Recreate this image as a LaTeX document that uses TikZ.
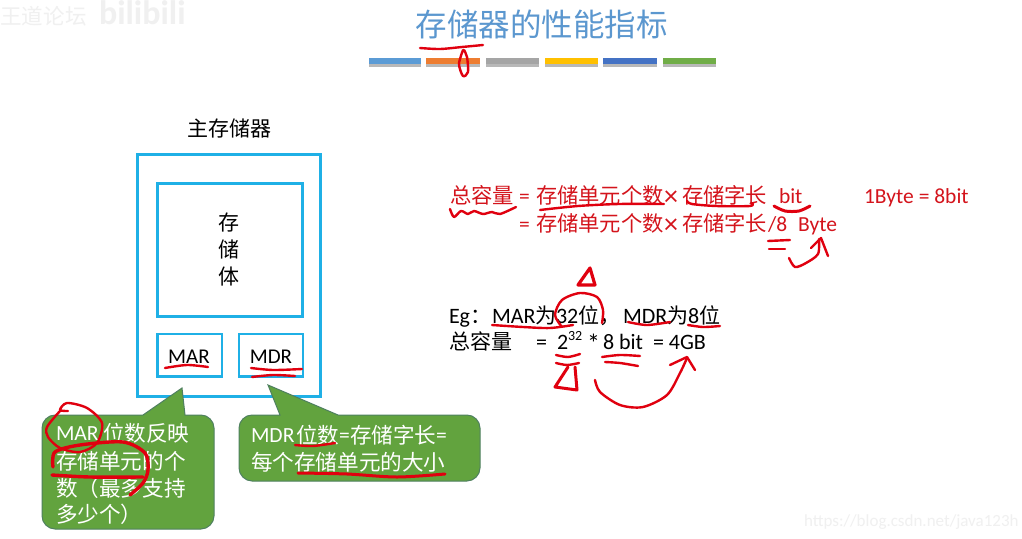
\documentclass[tikz,border=0pt]{standalone}
\usepackage{fontspec}
\setmainfont{Carlito}
\newfontfamily\cjk{Noto Sans CJK SC}[Scale=1]
\newcommand{\fsz}[1]{\fontsize{#1}{#1}\selectfont}
\definecolor{boxblue}{HTML}{1FB0E6}
\definecolor{inkred}{HTML}{E0000F}
\definecolor{txtred}{HTML}{D4141C}
\definecolor{calloutfill}{HTML}{62A33E}
\definecolor{calloutedge}{HTML}{4F8060}
\definecolor{titleblue}{HTML}{5B97CF}
\tikzset{
  x=1pt,y=-1pt,
  panel/.style={draw=boxblue,line width=2.6pt,fill=white},
  callout/.style={draw=calloutedge,line width=1pt,fill=calloutfill},
  ink/.style={draw=inkred,line width=2.4pt,line cap=round,line join=round},
  lbl/.style={inner sep=0pt,outer sep=0pt,anchor=base west},
  ctr/.style={inner sep=0pt,outer sep=0pt,anchor=base},
  red14/.style={lbl,text=txtred,font=\fsz{21.5}},
  blk/.style={lbl,text=black,font=\fsz{22}},
  wht/.style={lbl,text=white,font=\fsz{21.6}},
  wmark/.style={lbl,text=black!6},
}
\begin{document}
\begin{tikzpicture}
\useasboundingbox (0,0) rectangle (1022,538);
\fill[white] (0,0) rectangle (1022,538);

% watermarks
\node[wmark,font=\fsz{21.5}\cjk] (wm1) at (0.5,24) {王道论坛};
\node[wmark,font=\fsz{34}\bfseries] (wm2) at (99,24) {bilibili};
\node[wmark,font=\fsz{17}] (wm3) at (804,526) {https://blog.csdn.net/java123h};

% title
\node[ctr,text=titleblue,font=\fsz{31.5}\cjk] (title) at (541.5,36) {存储器的性能指标};

% colour bars
\foreach \xa/\xb/\c in {369/421/5B9BD5,426/480/ED7D31,486/539/A5A5A5,545/598/FFC000,603/657/4472C4,663/716/70AD47}{
  \definecolor{barc}{HTML}{\c}
  \fill[black!28] (\xa,60) rectangle (\xb,66.5);
  \fill[barc] (\xa,58) rectangle (\xb,64);
}

% memory
\node[ctr,font=\fsz{21}\cjk] (mainlabel) at (229,136) {主存储器};
\draw[panel] (137.5,154.5) rectangle (320.5,396.5);
\draw[panel] (157.5,183.5) rectangle (302.5,316.5);
\draw[panel] (157.5,334) rectangle (222,376.5);
\draw[panel] (239,334) rectangle (303,376.5);
\node[ctr,font=\fsz{21}\cjk] (c1) at (229,230) {存};
\node[ctr,font=\fsz{21}\cjk] (c2) at (229,257) {储};
\node[ctr,font=\fsz{21}\cjk] (c3) at (229,284) {体};
\node[ctr,font=\fsz{21}] (mar) at (189,363) {MAR};
\node[ctr,font=\fsz{21}] (mdr) at (271,363) {MDR};

% callouts
\draw[callout] (55,415) -- (143,415) -- (182,388) -- (185,415) -- (201,415) .. controls (208,415) and (214,421) .. (214,428) -- (214,516) .. controls (214,523) and (208,529) .. (201,529) -- (55,529) .. controls (48,529) and (42,523) .. (42,516) -- (42,428) .. controls (42,421) and (48,415) .. (55,415) -- cycle;
\draw[callout] (252,415) -- (280,415) -- (268,385) -- (338,415) -- (467,415) .. controls (474,415) and (480,421) .. (480,428) -- (480,468) .. controls (480,475) and (474,481) .. (467,481) -- (252,481) .. controls (245,481) and (239,475) .. (239,468) -- (239,428) .. controls (239,421) and (245,415) .. (252,415) -- cycle;

\node[wht] (k1a) at (56,440) {MAR};
\node[wht,font=\fsz{21.6}\cjk] (k1b) at (103,441) {位数反映};
\node[wht,font=\fsz{21.6}\cjk] (k1c) at (56,469) {存储单元的个};
\node[wht,font=\fsz{21.6}\cjk] (k1d) at (56,496) {数（最多支持};
\node[wht,font=\fsz{21.6}\cjk] (k1e) at (56,522) {多少个）};

\node[wht] (k2a) at (251,442) {MDR};
\node[wht,font=\fsz{21.6}\cjk] (k2b) at (296,443) {位数};
\node[wht] (k2c) at (339,442) {=};
\node[wht,font=\fsz{21.6}\cjk] (k2d) at (350,443) {存储字长};
\node[wht] (k2e) at (436,442) {=};
\node[wht,font=\fsz{21.6}\cjk] (k2f) at (251,470) {每个存储单元的大小};

% red formula
\node[red14,font=\fsz{21.3}\cjk] (f1) at (450,203) {总容量};
\node[red14] (f2) at (519,203) {=};
\node[red14,font=\fsz{21.3}\cjk] (f3) at (536,203) {存储单元个数};
\node[red14,font=\fsz{28}] (f4) at (664,205) {×};
\node[red14,font=\fsz{21.3}\cjk] (f5) at (682,203) {存储字长};
\node[red14] (f6) at (779,203) {bit};
\node[red14] (f7) at (864,203) {1Byte = 8bit};
\node[red14] (g2) at (519,231) {=};
\node[red14,font=\fsz{21.3}\cjk] (g3) at (536,231) {存储单元个数};
\node[red14,font=\fsz{28}] (g4) at (664,233) {×};
\node[red14,font=\fsz{21.3}\cjk] (g5) at (682,231) {存储字长};
\node[red14] (g6) at (768,231) {/8};
\node[red14] (g7) at (798,231) {Byte};

% example
\node[blk] (e1) at (449,323) {Eg};
\node[blk,font=\fsz{21}\cjk] (e2) at (470,323) {：};
\node[blk] (e3) at (492,323) {MAR};
\node[blk,font=\fsz{21}\cjk] (e4) at (535,323) {为};
\node[blk] (e5) at (556,323) {32};
\node[blk,font=\fsz{21}\cjk] (e6) at (578,323) {位，};
\node[blk] (e7) at (623,323) {MDR};
\node[blk,font=\fsz{21}\cjk] (e8) at (667,323) {为};
\node[blk] (e9) at (688,323) {8};
\node[blk,font=\fsz{21}\cjk] (e10) at (699,323) {位};
\node[blk,font=\fsz{21}\cjk] (h1) at (449,349) {总容量};
\node[blk] (h2) at (536,349) {=};
\node[blk] (h3) at (557,349) {2};
\node[blk,font=\fsz{14}] (h4) at (568,340) {32};
\node[blk,font=\fsz{26}] (h5) at (587,352) {*};
\node[blk] (h6) at (603,349) {8 bit};
\node[blk] (h7) at (653,349) {= 4GB};

% handwriting
\draw[ink] plot[smooth] coordinates {(420,48)(440,49)(462,47)(483,45)};
\draw[ink] plot[smooth] coordinates {(463,50)(459,64)(463,76)(468,72)(467,57)(464,50)};

\draw[ink] plot[smooth] coordinates {(165,368)(187,365)(208,367)};
\draw[ink] plot[smooth] coordinates {(251,368)(273,370)(302,369)};
\draw[ink] plot[smooth] coordinates {(252,377)(273,375)(295,376)};
\draw[ink] plot[smooth] coordinates {(68,411)(60,410)(67,403)(87,408)(102,423)(97,443)(80,452)(60,448)(48,437)(47,427)(60,411)};
\draw[ink,line width=3.4pt] plot[smooth] coordinates {(52,475)(90,477)(143,477)};
\draw[ink,line width=3.4pt] plot[smooth] coordinates {(53,467)(55,452)(80,445)(123,442)(145,453)(148,470)(143,483)(130,495)};
\draw[ink] plot[smooth] coordinates {(295,445)(313,446)(335,443)};
\draw[ink,line width=3pt] plot[smooth] coordinates {(298,473)(347,474)(397,477)(445,474)};

\draw[ink] plot[smooth] coordinates {(450,209)(454,217)(461,211)(468,214)(474,211)(483,214)(492,212)(500,214)(516,207)};
\draw[ink] plot[smooth] coordinates {(540,210)(578,206)(619,204)(664,204)};
\draw[ink] plot[smooth] coordinates {(687,201)(692,204)(716,206)(750,206)(752,203)};
\draw[ink,line width=3pt] plot[smooth] coordinates {(774,206)(785,211)(799,211)(810,206)};
\draw[ink] plot[smooth] coordinates {(768,241)(790,240)};
\draw[ink] plot[smooth] coordinates {(769,249)(785,249)};
\draw[ink] plot[smooth] coordinates {(789,258)(795,267)(806,263)(818,254)(819,239)};
\draw[ink] (811,248) -- (821,238) -- (828,256);

\draw[ink,line width=3.2pt] (578,285) -- (590,268) -- (595,285) -- cycle;
\draw[ink] plot[smooth] coordinates {(562,327)(555,315)(562,300)(580,293)(597,297)(603,310)(602,323)};
\draw[ink] plot[smooth] coordinates {(492,325)(523,327)(550,328)(573,325)};
\draw[ink] plot[smooth] coordinates {(628,322)(647,325)(670,322)};
\draw[ink] plot[smooth] coordinates {(688,325)(703,327)(720,326)};
\draw[ink] plot[smooth] coordinates {(556,355)(568,357)(580,354)};
\draw[ink] plot[smooth] coordinates {(556,363)(567,365)(579,363)};
\draw[ink,line width=3pt] (568,367) -- (555,387) -- (577,390) -- (575,367);
\draw[ink] plot[smooth] coordinates {(602,357)(620,355)(640,356)};
\draw[ink] plot[smooth] coordinates {(605,362)(620,363)(638,366)};
\draw[ink] plot[smooth] coordinates {(595,380)(600,392)(620,405)(643,407)(667,395)(680,373)(687,358)};
\draw[ink] (670,365) -- (687,357) -- (695,370);
\end{tikzpicture}
\end{document}
